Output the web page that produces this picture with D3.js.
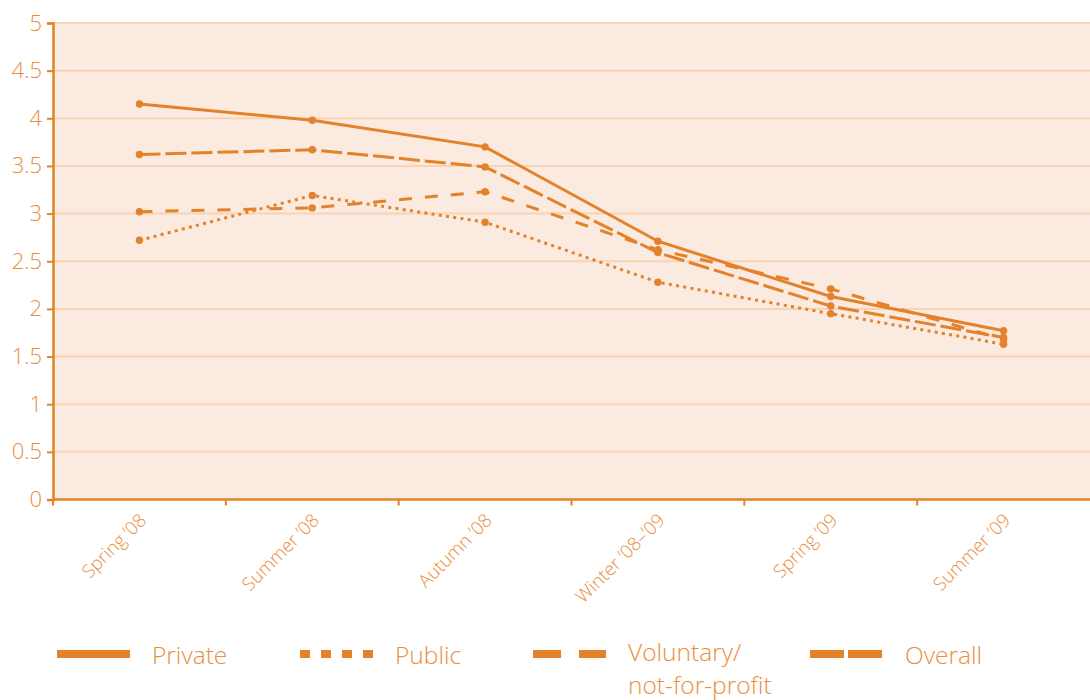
<!DOCTYPE html>
<html>
<head>
<meta charset="utf-8">
<script src="https://cdn.jsdelivr.net/npm/d3@7/dist/d3.min.js"></script>
<style>
  body { margin: 0; background: #ffffff; }
  svg, svg text { font-family: "Open Sans", "Noto Sans", sans-serif; }
  svg { display: block; }
</style>
</head>
<body>
<svg id="chart" width="1090" height="700"></svg>
<script>
// Survey periods (x categories)
const periods = ["Spring ’08", "Summer ’08", "Autumn ’08", "Winter ’08–’09", "Spring ’09", "Summer ’09"];

// Index values per sector
const privateValues   = [4.15, 3.98, 3.70, 2.71, 2.13, 1.77];
const publicValues    = [2.72, 3.19, 2.91, 2.28, 1.95, 1.63];
const voluntaryValues = [3.02, 3.06, 3.23, 2.62, 2.21, 1.68];
const overallValues   = [3.62, 3.67, 3.49, 2.59, 2.03, 1.70];

// Y axis ticks
const yTicks = [0, 0.5, 1, 1.5, 2, 2.5, 3, 3.5, 4, 4.5, 5];

// Legend labels (multi-line labels split on "\n")
const seriesNames = ["Private", "Public", "Voluntary/\nnot-for-profit", "Overall"];

const LINE = "#e3822a";
const TEXT = "#e98e3c";
const GRID = "#f7d4b4";
const FILL = "#fbeadf";

const svg = d3.select("#chart");
const plotLeft = 53, plotRight = 1090, plotTop = 23, plotBottom = 499.5;

const x = d3.scaleBand().domain(periods).range([plotLeft, plotRight]);
const y = d3.scaleLinear().domain([0, 5]).range([plotBottom, plotTop]);

// plot background
svg.append("rect")
  .attr("x", plotLeft).attr("y", plotTop)
  .attr("width", plotRight - plotLeft).attr("height", plotBottom - plotTop)
  .attr("fill", FILL);

// horizontal gridlines
svg.append("g").selectAll("line")
  .data(yTicks.filter(d => d > 0))
  .join("line")
  .attr("x1", plotLeft).attr("x2", plotRight)
  .attr("y1", d => y(d)).attr("y2", d => y(d))
  .attr("stroke", GRID).attr("stroke-width", 2);

// y axis
const yAxis = svg.append("g")
  .attr("transform", `translate(${plotLeft},0)`)
  .call(d3.axisLeft(y).tickValues(yTicks).tickSize(6).tickPadding(5).tickFormat(d => String(d)))
  .attr("font-family", null);
yAxis.select(".domain").attr("stroke", LINE).attr("stroke-width", 2.5);
yAxis.selectAll(".tick line").attr("stroke", LINE).attr("stroke-width", 2);
yAxis.selectAll(".tick text")
  .attr("fill", TEXT).attr("font-size", 22).attr("font-weight", 300);

// x axis with rotated labels at category centres
const xAxis = svg.append("g")
  .attr("transform", `translate(0,${plotBottom})`)
  .call(d3.axisBottom(x).tickSize(0))
  .attr("font-family", null);
xAxis.select(".domain").remove();
xAxis.selectAll(".tick text")
  .attr("fill", TEXT).attr("font-size", 18.5).attr("font-weight", 300)
  .attr("text-anchor", "end")
  .attr("x", 0).attr("y", 0).attr("dy", 0)
  .attr("transform", "translate(8,22) rotate(-45)");

// x axis line and tick marks at band boundaries
svg.append("line")
  .attr("x1", plotLeft).attr("x2", plotRight)
  .attr("y1", plotBottom).attr("y2", plotBottom)
  .attr("stroke", LINE).attr("stroke-width", 2.5);
svg.append("g").selectAll("line")
  .data(periods)
  .join("line")
  .attr("x1", d => x(d)).attr("x2", d => x(d))
  .attr("y1", plotBottom).attr("y2", plotBottom + 6)
  .attr("stroke", LINE).attr("stroke-width", 2);

// series
const series = [
  { name: seriesNames[0], values: privateValues,   dash: null,     legendDash: null },
  { name: seriesNames[1], values: publicValues,    dash: "3,4.3",  legendDash: "10,11" },
  { name: seriesNames[2], values: voluntaryValues, dash: "13,13",  legendDash: "28,18" },
  { name: seriesNames[3], values: overallValues,   dash: "21,5",   legendDash: "34,4" }
];

const cx = d => x(d) + x.bandwidth() / 2;
const line = d3.line().x(d => cx(d.p)).y(d => y(d.v));

const plot = svg.append("g");
series.forEach(s => {
  const pts = periods.map((p, i) => ({ p, v: s.values[i] }));
  plot.append("path")
    .datum(pts)
    .attr("d", line)
    .attr("fill", "none")
    .attr("stroke", LINE)
    .attr("stroke-width", 3)
    .attr("stroke-dasharray", s.dash);
  plot.append("g").selectAll("circle")
    .data(pts)
    .join("circle")
    .attr("cx", d => cx(d.p))
    .attr("cy", d => y(d.v))
    .attr("r", 3.7)
    .attr("fill", LINE);
});

// legend
const legendX = [57, 300, 533, 810];
const legend = svg.append("g");
series.forEach((s, i) => {
  const g = legend.append("g").attr("transform", `translate(${legendX[i]},654)`);
  g.append("line")
    .attr("x1", 0).attr("x2", 73)
    .attr("y1", 0).attr("y2", 0)
    .attr("stroke", LINE).attr("stroke-width", 8)
    .attr("stroke-dasharray", s.legendDash);
  const lines = s.name.split("\n");
  lines.forEach((ln, k) => {
    g.append("text")
      .attr("x", 95)
      .attr("y", lines.length > 1 ? 7 + k * 33 : 10)
      .attr("fill", TEXT).attr("font-size", 24.5).attr("font-weight", 300)
      .text(ln);
  });
});
</script>
</body>
</html>
